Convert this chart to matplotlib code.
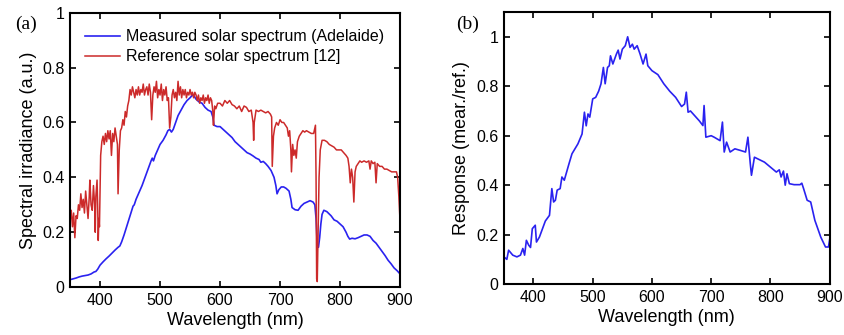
import matplotlib
matplotlib.use("Agg")
import matplotlib.pyplot as plt
from matplotlib.ticker import FuncFormatter

# ---- data ----
# (a) measured solar spectrum (Adelaide)
meas_wl = [350, 355, 360, 365, 370, 375, 380, 385, 390, 393, 396, 400, 405, 410, 415,
           420, 425, 430, 433, 436, 440, 445, 450, 455, 457, 460, 465, 470, 475, 480,
           485, 487, 489, 492, 496, 500, 505, 510, 513, 516, 519, 522, 526, 530, 535,
           540, 545, 550, 554, 557, 560, 565, 570, 575, 580, 585, 588, 590, 595, 600,
           605, 610, 615, 620, 625, 630, 635, 640, 645, 650, 655, 660, 665, 668, 672,
           676, 680, 685, 690, 693, 695, 698, 702, 706, 710, 715, 718, 720, 725, 730,
           735, 740, 745, 750, 755, 758, 760, 762, 764, 766, 768, 770, 773, 778, 785,
           790, 795, 800, 805, 810, 813, 816, 820, 825, 830, 835, 840, 845, 850, 855,
           860, 865, 870, 875, 880, 885, 890, 895, 900]
meas_val = [0.027, 0.030, 0.033, 0.037, 0.040, 0.042, 0.044, 0.048, 0.055, 0.057, 0.065,
            0.080, 0.092, 0.103, 0.113, 0.124, 0.135, 0.145, 0.150, 0.165, 0.190, 0.225,
            0.260, 0.295, 0.300, 0.320, 0.345, 0.370, 0.400, 0.430, 0.460, 0.470, 0.460,
            0.480, 0.500, 0.520, 0.535, 0.555, 0.570, 0.575, 0.565, 0.575, 0.600, 0.625,
            0.645, 0.665, 0.680, 0.690, 0.700, 0.695, 0.685, 0.675, 0.670, 0.655, 0.645,
            0.640, 0.620, 0.590, 0.585, 0.585, 0.575, 0.565, 0.555, 0.545, 0.530, 0.520,
            0.510, 0.500, 0.490, 0.485, 0.478, 0.470, 0.465, 0.455, 0.458, 0.450, 0.440,
            0.425, 0.400, 0.370, 0.340, 0.355, 0.365, 0.365, 0.360, 0.350, 0.320, 0.290,
            0.282, 0.280, 0.295, 0.305, 0.310, 0.315, 0.310, 0.300, 0.250, 0.150, 0.145,
            0.180, 0.230, 0.265, 0.280, 0.275, 0.260, 0.245, 0.240, 0.230, 0.220, 0.200,
            0.185, 0.175, 0.178, 0.176, 0.180, 0.185, 0.190, 0.190, 0.185, 0.170, 0.160,
            0.145, 0.130, 0.115, 0.098, 0.085, 0.070, 0.060, 0.048]

# (a) reference solar spectrum [12]
ref_wl = [350, 352, 354, 356, 358, 360, 362, 364, 366, 368, 370, 372, 374, 376, 378,
          380, 382, 383, 385, 387, 389, 391, 392, 393, 395, 396, 397, 398, 399, 401,
          403, 405, 407, 409, 411, 413, 415, 417, 419, 421, 423, 425, 427, 429, 430,
          432, 434, 436, 438, 440, 442, 444, 446, 448, 450, 452, 454, 456, 458, 460,
          462, 464, 466, 468, 470, 472, 474, 476, 478, 480, 482, 484, 486, 488, 490,
          492, 494, 496, 498, 500, 502, 504, 506, 508, 510, 512, 514, 516, 518, 520,
          522, 524, 526, 528, 530, 532, 534, 536, 538, 540, 542, 544, 546, 548, 550,
          552, 554, 556, 558, 560, 562, 564, 566, 568, 570, 572, 574, 576, 578, 580,
          582, 584, 586, 588, 589, 591, 593, 596, 600, 604, 608, 612, 616, 620, 624,
          628, 632, 636, 640, 644, 648, 652, 655, 656, 657, 660, 664, 668, 672, 676,
          680, 684, 686, 687, 689, 691, 694, 697, 700, 703, 706, 709, 712, 714, 716,
          718, 719, 721, 723, 725, 727, 729, 732, 735, 738, 741, 744, 748, 752, 756,
          758, 759, 760, 761, 762, 763, 765, 767, 770, 774, 778, 782, 786, 790, 794,
          798, 802, 806, 810, 813, 815, 817, 819, 821, 823, 825, 827, 830, 833, 836,
          840, 844, 848, 850, 852, 855, 858, 860, 862, 866, 870, 874, 878, 882, 886,
          890, 894, 896, 898, 900]
ref_val = [0.24, 0.28, 0.22, 0.27, 0.18, 0.26, 0.25, 0.30, 0.28, 0.34, 0.29, 0.32, 0.27,
           0.35, 0.30, 0.25, 0.33, 0.39, 0.30, 0.28, 0.37, 0.30, 0.20, 0.33, 0.39, 0.30,
           0.17, 0.25, 0.22, 0.48, 0.53, 0.55, 0.52, 0.56, 0.53, 0.57, 0.54, 0.57, 0.48,
           0.56, 0.53, 0.58, 0.55, 0.52, 0.34, 0.50, 0.57, 0.58, 0.61, 0.59, 0.64, 0.62,
           0.66, 0.68, 0.72, 0.70, 0.73, 0.71, 0.69, 0.72, 0.70, 0.73, 0.70, 0.72, 0.71,
           0.74, 0.70, 0.72, 0.73, 0.70, 0.74, 0.71, 0.61, 0.70, 0.73, 0.71, 0.75, 0.69,
           0.72, 0.70, 0.74, 0.68, 0.72, 0.70, 0.73, 0.68, 0.69, 0.58, 0.62, 0.70, 0.72,
           0.69, 0.71, 0.68, 0.75, 0.70, 0.73, 0.69, 0.72, 0.70, 0.72, 0.69, 0.71, 0.70,
           0.72, 0.70, 0.71, 0.69, 0.71, 0.70, 0.68, 0.70, 0.67, 0.69, 0.68, 0.70, 0.67,
           0.69, 0.68, 0.70, 0.67, 0.69, 0.68, 0.64, 0.59, 0.66, 0.65, 0.67, 0.67, 0.66,
           0.68, 0.67, 0.68, 0.665, 0.66, 0.65, 0.66, 0.64, 0.66, 0.655, 0.64, 0.645,
           0.60, 0.535, 0.60, 0.645, 0.64, 0.645, 0.64, 0.635, 0.64, 0.63, 0.62, 0.44,
           0.55, 0.58, 0.60, 0.59, 0.61, 0.60, 0.60, 0.59, 0.58, 0.55, 0.57, 0.50, 0.42,
           0.52, 0.48, 0.50, 0.47, 0.53, 0.55, 0.56, 0.57, 0.565, 0.57, 0.565, 0.56,
           0.56, 0.58, 0.59, 0.40, 0.03, 0.02, 0.15, 0.40, 0.50, 0.535, 0.535, 0.53,
           0.52, 0.515, 0.51, 0.50, 0.50, 0.50, 0.49, 0.48, 0.47, 0.44, 0.38, 0.43,
           0.40, 0.31, 0.42, 0.44, 0.45, 0.46, 0.455, 0.46, 0.455, 0.46, 0.43, 0.46,
           0.45, 0.455, 0.38, 0.45, 0.44, 0.44, 0.43, 0.43, 0.425, 0.42, 0.42, 0.42,
           0.40, 0.33, 0.24]

# (b) response = measured / reference
resp_wl = [350, 355, 358, 365, 372, 378, 382, 385, 388, 392, 395, 398, 403, 405, 410,
           420, 427, 431, 434, 437, 440, 445, 448, 452, 460, 465, 475, 482, 486, 489,
           492, 495, 500, 505, 510, 514, 518, 521, 525, 528, 530, 534, 540, 543, 546,
           550, 555, 559, 563, 567, 570, 575, 580, 585, 590, 593, 600, 610, 620, 630,
           640, 650, 655, 658, 661, 665, 680, 686, 688, 691, 700, 705, 715, 719, 722,
           726, 732, 740, 750, 758, 762, 766, 768, 773, 790, 800, 810, 815, 818, 822,
           825, 828, 832, 840, 850, 853, 856, 862, 868, 875, 885, 893, 898, 900]
resp_val = [0.110, 0.100, 0.137, 0.117, 0.110, 0.117, 0.144, 0.117, 0.177, 0.157, 0.148,
            0.224, 0.238, 0.170, 0.190, 0.255, 0.278, 0.386, 0.332, 0.339, 0.380, 0.386,
            0.433, 0.420, 0.487, 0.527, 0.567, 0.607, 0.695, 0.640, 0.688, 0.675, 0.749,
            0.755, 0.780, 0.810, 0.876, 0.810, 0.876, 0.883, 0.923, 0.890, 0.930, 0.946,
            0.910, 0.950, 0.964, 1.000, 0.957, 0.970, 0.950, 0.964, 0.930, 0.890, 0.930,
            0.883, 0.863, 0.847, 0.810, 0.780, 0.755, 0.718, 0.728, 0.776, 0.695, 0.700,
            0.660, 0.641, 0.722, 0.594, 0.600, 0.594, 0.580, 0.655, 0.534, 0.574, 0.534,
            0.547, 0.540, 0.534, 0.594, 0.487, 0.440, 0.513, 0.493, 0.473, 0.453, 0.462,
            0.433, 0.457, 0.400, 0.446, 0.406, 0.402, 0.402, 0.408, 0.386, 0.339, 0.332,
            0.258, 0.190, 0.150, 0.150, 0.180]

x_ticks = [400, 500, 600, 700, 800, 900]
y_ticks = [0, 0.2, 0.4, 0.6, 0.8, 1]

BLUE = '#2a22f0'
RED = '#cc2a2a'

plt.rcParams['font.family'] = ['Liberation Sans', 'DejaVu Sans']

fig = plt.figure(figsize=(8.44, 3.35), dpi=100)
ax1 = fig.add_axes([0.083, 0.143, 0.391, 0.819])
ax2 = fig.add_axes([0.597, 0.152, 0.386, 0.812])


def style_axis(ax, ylim):
    ax.set_xlim(350, 900)
    ax.set_ylim(*ylim)
    ax.set_xticks(x_ticks)
    ax.set_yticks(y_ticks)
    ax.yaxis.set_major_formatter(FuncFormatter(lambda v, p: f"{v:g}"))
    ax.tick_params(direction='in', top=True, right=True, length=4, width=1.2,
                   labelsize=11.5, pad=4)
    for s in ax.spines.values():
        s.set_linewidth(1.5)
    ax.set_xlabel("Wavelength (nm)", fontsize=13, labelpad=3)


ax1.plot(meas_wl, meas_val, color=BLUE, lw=1.2, label='Measured solar spectrum (Adelaide)')
ax1.plot(ref_wl, ref_val, color=RED, lw=1.1, label='Reference solar spectrum [12]')
style_axis(ax1, (0, 1))
ax1.set_ylabel("Spectral irradiance (a.u.)", fontsize=13, labelpad=4)
ax1.legend(loc='upper left', frameon=False, fontsize=11.5, handlelength=2.2,
           handletextpad=0.4, borderaxespad=0.3, labelspacing=0.3,
           bbox_to_anchor=(0.01, 0.98))
fig.text(0.018, 0.915, "(a)", family=['Liberation Serif'], fontsize=14)

ax2.plot(resp_wl, resp_val, color=BLUE, lw=1.2)
style_axis(ax2, (0, 1.1))
ax2.set_ylabel("Response (mear./ref.)", fontsize=13, labelpad=4)
fig.text(0.540, 0.915, "(b)", family=['Liberation Serif'], fontsize=14)

fig.savefig("out.png", dpi=100)
